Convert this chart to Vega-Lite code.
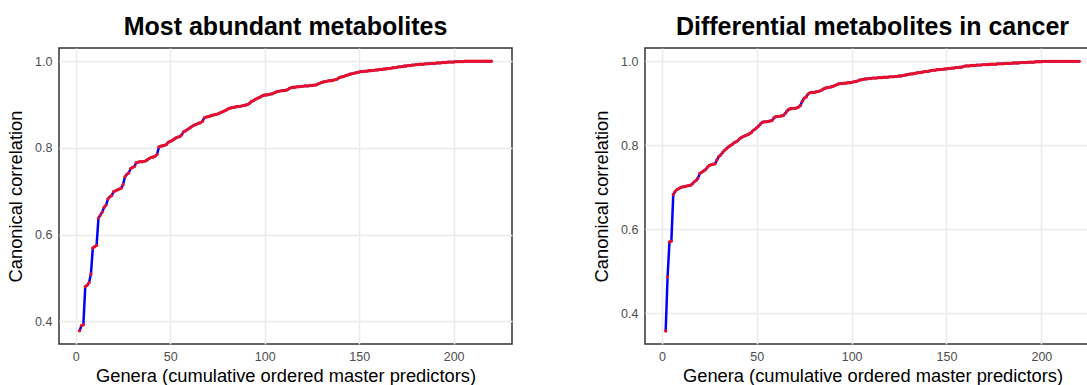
{
"$schema": "https://vega.github.io/schema/vega-lite/v6.json",
"padding": {"left": 5, "top": 14, "right": 0, "bottom": 0},
"background": "white",
"spacing": 78,
"config": {
  "font": "Liberation Sans",
  "view": {"stroke": "#333333", "strokeWidth": 1.5},
  "axis": {"grid": true, "gridColor": "#EBEBEB", "gridWidth": 1.5, "domain": false, "ticks": false, "tickSize": 0, "labelFont": "Liberation Sans", "labelFontSize": 12.5, "labelColor": "#4D4D4D", "labelPadding": 7, "titleFont": "Liberation Sans", "titleFontSize": 18.3, "titleFontWeight": "normal", "titleColor": "#000000"},
  "axisX": {"titlePadding": 5, "labelPadding": 6},
  "axisY": {"titlePadding": 9},
  "title": {"font": "Liberation Sans", "fontSize": 25, "fontWeight": "bold", "color": "#000000", "anchor": "middle", "offset": 8}
},
"datasets": {
"abundant": [
{"genera":2,"cc":0.378},{"genera":3,"cc":0.390},{"genera":4,"cc":0.392},{"genera":5,"cc":0.480},{"genera":6,"cc":0.483},{"genera":7,"cc":0.489},{"genera":8,"cc":0.509},{"genera":9,"cc":0.569},{"genera":10,"cc":0.572},
{"genera":11,"cc":0.575},{"genera":12,"cc":0.638},{"genera":13,"cc":0.645},{"genera":14,"cc":0.652},{"genera":15,"cc":0.663},{"genera":16,"cc":0.668},{"genera":17,"cc":0.682},{"genera":18,"cc":0.687},{"genera":19,"cc":0.690},{"genera":20,"cc":0.699},
{"genera":21,"cc":0.701},{"genera":22,"cc":0.703},{"genera":23,"cc":0.705},{"genera":24,"cc":0.707},{"genera":25,"cc":0.715},{"genera":26,"cc":0.733},{"genera":27,"cc":0.739},{"genera":28,"cc":0.742},{"genera":29,"cc":0.752},{"genera":30,"cc":0.755},
{"genera":31,"cc":0.757},{"genera":32,"cc":0.766},{"genera":33,"cc":0.767},{"genera":34,"cc":0.768},{"genera":35,"cc":0.768},{"genera":36,"cc":0.769},{"genera":37,"cc":0.770},{"genera":38,"cc":0.773},{"genera":39,"cc":0.776},{"genera":40,"cc":0.778},
{"genera":41,"cc":0.779},{"genera":42,"cc":0.781},{"genera":43,"cc":0.785},{"genera":44,"cc":0.802},{"genera":45,"cc":0.804},{"genera":46,"cc":0.805},{"genera":47,"cc":0.806},{"genera":48,"cc":0.808},{"genera":49,"cc":0.813},{"genera":50,"cc":0.815},
{"genera":51,"cc":0.817},{"genera":52,"cc":0.820},{"genera":53,"cc":0.823},{"genera":54,"cc":0.825},{"genera":55,"cc":0.826},{"genera":56,"cc":0.830},{"genera":57,"cc":0.837},{"genera":58,"cc":0.839},{"genera":59,"cc":0.842},{"genera":60,"cc":0.845},
{"genera":61,"cc":0.848},{"genera":62,"cc":0.851},{"genera":63,"cc":0.853},{"genera":64,"cc":0.855},{"genera":65,"cc":0.857},{"genera":66,"cc":0.858},{"genera":67,"cc":0.861},{"genera":68,"cc":0.869},{"genera":69,"cc":0.871},{"genera":70,"cc":0.872},
{"genera":71,"cc":0.873},{"genera":72,"cc":0.875},{"genera":73,"cc":0.876},{"genera":74,"cc":0.877},{"genera":75,"cc":0.878},{"genera":76,"cc":0.880},{"genera":77,"cc":0.882},{"genera":78,"cc":0.884},{"genera":79,"cc":0.886},{"genera":80,"cc":0.888},
{"genera":81,"cc":0.891},{"genera":82,"cc":0.892},{"genera":83,"cc":0.893},{"genera":84,"cc":0.894},{"genera":85,"cc":0.895},{"genera":86,"cc":0.896},{"genera":87,"cc":0.896},{"genera":88,"cc":0.897},{"genera":89,"cc":0.898},{"genera":90,"cc":0.899},
{"genera":91,"cc":0.900},{"genera":92,"cc":0.903},{"genera":93,"cc":0.907},{"genera":94,"cc":0.909},{"genera":95,"cc":0.912},{"genera":96,"cc":0.914},{"genera":97,"cc":0.916},{"genera":98,"cc":0.918},{"genera":99,"cc":0.921},{"genera":100,"cc":0.922},
{"genera":101,"cc":0.922},{"genera":102,"cc":0.923},{"genera":103,"cc":0.924},{"genera":104,"cc":0.925},{"genera":105,"cc":0.927},{"genera":106,"cc":0.929},{"genera":107,"cc":0.930},{"genera":108,"cc":0.931},{"genera":109,"cc":0.932},{"genera":110,"cc":0.932},
{"genera":111,"cc":0.933},{"genera":112,"cc":0.934},{"genera":113,"cc":0.937},{"genera":114,"cc":0.939},{"genera":115,"cc":0.940},{"genera":116,"cc":0.940},{"genera":117,"cc":0.941},{"genera":118,"cc":0.941},{"genera":119,"cc":0.942},{"genera":120,"cc":0.942},
{"genera":121,"cc":0.943},{"genera":122,"cc":0.943},{"genera":123,"cc":0.943},{"genera":124,"cc":0.944},{"genera":125,"cc":0.944},{"genera":126,"cc":0.945},{"genera":127,"cc":0.945},{"genera":128,"cc":0.947},{"genera":129,"cc":0.949},{"genera":130,"cc":0.951},
{"genera":131,"cc":0.952},{"genera":132,"cc":0.953},{"genera":133,"cc":0.954},{"genera":134,"cc":0.955},{"genera":135,"cc":0.955},{"genera":136,"cc":0.956},{"genera":137,"cc":0.957},{"genera":138,"cc":0.958},{"genera":139,"cc":0.961},{"genera":140,"cc":0.963},
{"genera":141,"cc":0.964},{"genera":142,"cc":0.965},{"genera":143,"cc":0.967},{"genera":144,"cc":0.968},{"genera":145,"cc":0.970},{"genera":146,"cc":0.971},{"genera":147,"cc":0.972},{"genera":148,"cc":0.973},{"genera":149,"cc":0.974},{"genera":150,"cc":0.975},
{"genera":151,"cc":0.976},{"genera":152,"cc":0.976},{"genera":153,"cc":0.977},{"genera":154,"cc":0.977},{"genera":155,"cc":0.978},{"genera":156,"cc":0.978},{"genera":157,"cc":0.979},{"genera":158,"cc":0.979},{"genera":159,"cc":0.980},{"genera":160,"cc":0.980},
{"genera":161,"cc":0.981},{"genera":162,"cc":0.981},{"genera":163,"cc":0.982},{"genera":164,"cc":0.982},{"genera":165,"cc":0.983},{"genera":166,"cc":0.983},{"genera":167,"cc":0.984},{"genera":168,"cc":0.985},{"genera":169,"cc":0.985},{"genera":170,"cc":0.986},
{"genera":171,"cc":0.987},{"genera":172,"cc":0.987},{"genera":173,"cc":0.988},{"genera":174,"cc":0.989},{"genera":175,"cc":0.989},{"genera":176,"cc":0.990},{"genera":177,"cc":0.990},{"genera":178,"cc":0.991},{"genera":179,"cc":0.991},{"genera":180,"cc":0.992},
{"genera":181,"cc":0.992},{"genera":182,"cc":0.993},{"genera":183,"cc":0.993},{"genera":184,"cc":0.993},{"genera":185,"cc":0.994},{"genera":186,"cc":0.994},{"genera":187,"cc":0.994},{"genera":188,"cc":0.995},{"genera":189,"cc":0.995},{"genera":190,"cc":0.995},
{"genera":191,"cc":0.996},{"genera":192,"cc":0.996},{"genera":193,"cc":0.996},{"genera":194,"cc":0.997},{"genera":195,"cc":0.997},{"genera":196,"cc":0.997},{"genera":197,"cc":0.998},{"genera":198,"cc":0.998},{"genera":199,"cc":0.998},{"genera":200,"cc":0.998},
{"genera":201,"cc":0.999},{"genera":202,"cc":0.999},{"genera":203,"cc":0.999},{"genera":204,"cc":0.999},{"genera":205,"cc":0.999},{"genera":206,"cc":1.0},{"genera":207,"cc":1.0},{"genera":208,"cc":1.0},{"genera":209,"cc":1.0},{"genera":210,"cc":1.0},
{"genera":211,"cc":1.0},{"genera":212,"cc":1.0},{"genera":213,"cc":1.0},{"genera":214,"cc":1.0},{"genera":215,"cc":1.0},{"genera":216,"cc":1.0},{"genera":217,"cc":1.0},{"genera":218,"cc":1.0},{"genera":219,"cc":1.0},{"genera":220,"cc":1.0}
],
"cancer": [
{"genera":2,"cc":0.358},{"genera":3,"cc":0.487},{"genera":4,"cc":0.570},{"genera":5,"cc":0.572},{"genera":6,"cc":0.683},{"genera":7,"cc":0.690},{"genera":8,"cc":0.695},{"genera":9,"cc":0.697},{"genera":10,"cc":0.700},
{"genera":11,"cc":0.701},{"genera":12,"cc":0.702},{"genera":13,"cc":0.703},{"genera":14,"cc":0.704},{"genera":15,"cc":0.705},{"genera":16,"cc":0.708},{"genera":17,"cc":0.713},{"genera":18,"cc":0.716},{"genera":19,"cc":0.722},{"genera":20,"cc":0.733},
{"genera":21,"cc":0.736},{"genera":22,"cc":0.739},{"genera":23,"cc":0.742},{"genera":24,"cc":0.748},{"genera":25,"cc":0.752},{"genera":26,"cc":0.754},{"genera":27,"cc":0.755},{"genera":28,"cc":0.756},{"genera":29,"cc":0.765},{"genera":30,"cc":0.773},
{"genera":31,"cc":0.777},{"genera":32,"cc":0.783},{"genera":33,"cc":0.788},{"genera":34,"cc":0.792},{"genera":35,"cc":0.796},{"genera":36,"cc":0.799},{"genera":37,"cc":0.802},{"genera":38,"cc":0.806},{"genera":39,"cc":0.808},{"genera":40,"cc":0.811},
{"genera":41,"cc":0.816},{"genera":42,"cc":0.819},{"genera":43,"cc":0.821},{"genera":44,"cc":0.823},{"genera":45,"cc":0.825},{"genera":46,"cc":0.827},{"genera":47,"cc":0.830},{"genera":48,"cc":0.835},{"genera":49,"cc":0.838},{"genera":50,"cc":0.842},
{"genera":51,"cc":0.846},{"genera":52,"cc":0.851},{"genera":53,"cc":0.855},{"genera":54,"cc":0.856},{"genera":55,"cc":0.856},{"genera":56,"cc":0.857},{"genera":57,"cc":0.858},{"genera":58,"cc":0.859},{"genera":59,"cc":0.865},{"genera":60,"cc":0.868},
{"genera":61,"cc":0.869},{"genera":62,"cc":0.869},{"genera":63,"cc":0.870},{"genera":64,"cc":0.871},{"genera":65,"cc":0.876},{"genera":66,"cc":0.882},{"genera":67,"cc":0.886},{"genera":68,"cc":0.887},{"genera":69,"cc":0.888},{"genera":70,"cc":0.888},
{"genera":71,"cc":0.889},{"genera":72,"cc":0.891},{"genera":73,"cc":0.895},{"genera":74,"cc":0.905},{"genera":75,"cc":0.912},{"genera":76,"cc":0.915},{"genera":77,"cc":0.922},{"genera":78,"cc":0.925},{"genera":79,"cc":0.926},{"genera":80,"cc":0.926},
{"genera":81,"cc":0.927},{"genera":82,"cc":0.928},{"genera":83,"cc":0.929},{"genera":84,"cc":0.931},{"genera":85,"cc":0.934},{"genera":86,"cc":0.936},{"genera":87,"cc":0.937},{"genera":88,"cc":0.938},{"genera":89,"cc":0.939},{"genera":90,"cc":0.940},
{"genera":91,"cc":0.942},{"genera":92,"cc":0.944},{"genera":93,"cc":0.946},{"genera":94,"cc":0.947},{"genera":95,"cc":0.947},{"genera":96,"cc":0.948},{"genera":97,"cc":0.948},{"genera":98,"cc":0.949},{"genera":99,"cc":0.949},{"genera":100,"cc":0.950},
{"genera":101,"cc":0.951},{"genera":102,"cc":0.952},{"genera":103,"cc":0.953},{"genera":104,"cc":0.955},{"genera":105,"cc":0.956},{"genera":106,"cc":0.957},{"genera":107,"cc":0.958},{"genera":108,"cc":0.958},{"genera":109,"cc":0.959},{"genera":110,"cc":0.959},
{"genera":111,"cc":0.960},{"genera":112,"cc":0.960},{"genera":113,"cc":0.960},{"genera":114,"cc":0.961},{"genera":115,"cc":0.961},{"genera":116,"cc":0.961},{"genera":117,"cc":0.962},{"genera":118,"cc":0.962},{"genera":119,"cc":0.962},{"genera":120,"cc":0.963},
{"genera":121,"cc":0.963},{"genera":122,"cc":0.963},{"genera":123,"cc":0.964},{"genera":124,"cc":0.964},{"genera":125,"cc":0.965},{"genera":126,"cc":0.965},{"genera":127,"cc":0.966},{"genera":128,"cc":0.967},{"genera":129,"cc":0.968},{"genera":130,"cc":0.969},
{"genera":131,"cc":0.970},{"genera":132,"cc":0.970},{"genera":133,"cc":0.971},{"genera":134,"cc":0.972},{"genera":135,"cc":0.973},{"genera":136,"cc":0.973},{"genera":137,"cc":0.974},{"genera":138,"cc":0.975},{"genera":139,"cc":0.976},{"genera":140,"cc":0.976},
{"genera":141,"cc":0.977},{"genera":142,"cc":0.978},{"genera":143,"cc":0.979},{"genera":144,"cc":0.979},{"genera":145,"cc":0.980},{"genera":146,"cc":0.980},{"genera":147,"cc":0.981},{"genera":148,"cc":0.981},{"genera":149,"cc":0.982},{"genera":150,"cc":0.982},
{"genera":151,"cc":0.983},{"genera":152,"cc":0.983},{"genera":153,"cc":0.984},{"genera":154,"cc":0.984},{"genera":155,"cc":0.985},{"genera":156,"cc":0.985},{"genera":157,"cc":0.986},{"genera":158,"cc":0.986},{"genera":159,"cc":0.988},{"genera":160,"cc":0.989},
{"genera":161,"cc":0.989},{"genera":162,"cc":0.989},{"genera":163,"cc":0.990},{"genera":164,"cc":0.990},{"genera":165,"cc":0.990},{"genera":166,"cc":0.991},{"genera":167,"cc":0.991},{"genera":168,"cc":0.991},{"genera":169,"cc":0.992},{"genera":170,"cc":0.992},
{"genera":171,"cc":0.992},{"genera":172,"cc":0.992},{"genera":173,"cc":0.993},{"genera":174,"cc":0.993},{"genera":175,"cc":0.993},{"genera":176,"cc":0.993},{"genera":177,"cc":0.994},{"genera":178,"cc":0.994},{"genera":179,"cc":0.994},{"genera":180,"cc":0.994},
{"genera":181,"cc":0.995},{"genera":182,"cc":0.995},{"genera":183,"cc":0.995},{"genera":184,"cc":0.995},{"genera":185,"cc":0.996},{"genera":186,"cc":0.996},{"genera":187,"cc":0.996},{"genera":188,"cc":0.996},{"genera":189,"cc":0.997},{"genera":190,"cc":0.997},
{"genera":191,"cc":0.997},{"genera":192,"cc":0.997},{"genera":193,"cc":0.998},{"genera":194,"cc":0.998},{"genera":195,"cc":0.998},{"genera":196,"cc":0.998},{"genera":197,"cc":0.999},{"genera":198,"cc":0.999},{"genera":199,"cc":0.999},{"genera":200,"cc":0.999},
{"genera":201,"cc":1.0},{"genera":202,"cc":1.0},{"genera":203,"cc":1.0},{"genera":204,"cc":1.0},{"genera":205,"cc":1.0},{"genera":206,"cc":1.0},{"genera":207,"cc":1.0},{"genera":208,"cc":1.0},{"genera":209,"cc":1.0},{"genera":210,"cc":1.0},
{"genera":211,"cc":1.0},{"genera":212,"cc":1.0},{"genera":213,"cc":1.0},{"genera":214,"cc":1.0},{"genera":215,"cc":1.0},{"genera":216,"cc":1.0},{"genera":217,"cc":1.0},{"genera":218,"cc":1.0},{"genera":219,"cc":1.0},{"genera":220,"cc":1.0}
]
},
"hconcat": [
{
  "title": "Most abundant metabolites",
  "width": 453, "height": 296,
  "data": {"name": "abundant"},
  "encoding": {
    "x": {"field": "genera", "type": "quantitative", "scale": {"domain": [-8.9, 230.9], "nice": false, "zero": false}, "axis": {"values": [0, 50, 100, 150, 200], "title": "Genera (cumulative ordered master predictors)"}},
    "y": {"field": "cc", "type": "quantitative", "scale": {"domain": [0.3475, 1.0305], "nice": false, "zero": false}, "axis": {"values": [0.4, 0.6, 0.8, 1.0], "format": ".1f", "title": "Canonical correlation"}}
  },
  "layer": [
    {"mark": {"type": "line", "color": "#0000FF", "strokeWidth": 2.5}},
    {"mark": {"type": "point", "filled": true, "color": "#E8102C", "size": 11, "opacity": 1, "strokeWidth": 0}}
  ]
},
{
  "title": "Differential metabolites in cancer",
  "width": 455, "height": 296,
  "data": {"name": "cancer"},
  "encoding": {
    "x": {"field": "genera", "type": "quantitative", "scale": {"domain": [-8.9, 230.9], "nice": false, "zero": false}, "axis": {"values": [0, 50, 100, 150, 200], "title": "Genera (cumulative ordered master predictors)"}},
    "y": {"field": "cc", "type": "quantitative", "scale": {"domain": [0.327, 1.0317], "nice": false, "zero": false}, "axis": {"values": [0.4, 0.6, 0.8, 1.0], "format": ".1f", "title": "Canonical correlation"}}
  },
  "layer": [
    {"mark": {"type": "line", "color": "#0000FF", "strokeWidth": 2.5}},
    {"mark": {"type": "point", "filled": true, "color": "#E8102C", "size": 11, "opacity": 1, "strokeWidth": 0}}
  ]
}
]
}
